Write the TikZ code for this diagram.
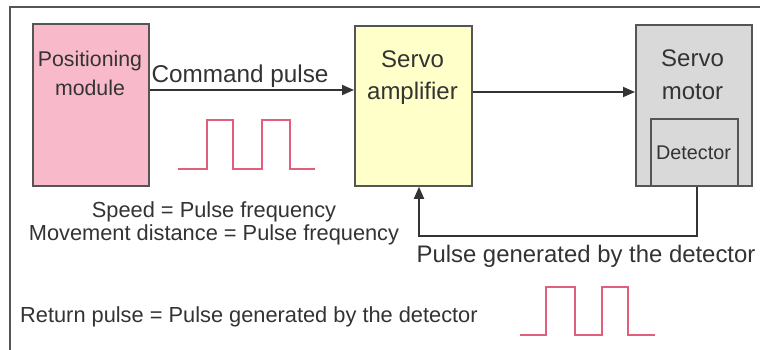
\documentclass[tikz,border=0pt]{standalone}
\usepackage{fontspec}
\setmainfont{Liberation Sans}
\usetikzlibrary{arrows.meta}
\definecolor{pinkfill}{HTML}{F8BACB}
\definecolor{yelfill}{HTML}{FFFFC9}
\definecolor{grayfill}{HTML}{D9D9D9}
\definecolor{edge}{HTML}{555555}
\definecolor{txt}{HTML}{333333}
\definecolor{pulsecol}{HTML}{E0607C}
\tikzset{
  box/.style={draw=edge, line width=1.8pt, inner sep=0pt, anchor=north west},
  lbl/.style={text=txt, inner sep=0pt, anchor=base, font=\fontsize{21.8}{23}\selectfont},
  blbl/.style={text=txt, inner sep=0pt, anchor=base, font=\fontsize{24}{25}\selectfont},
  conn/.style={draw=txt, line width=1.8pt, -{Triangle[length=12pt,width=10pt]}},
  pulse/.style={draw=pulsecol, line width=1.6pt},
}
\begin{document}
\begin{tikzpicture}[x=1pt,y=-1pt]
\useasboundingbox (0,0) rectangle (760,350);
\fill[white] (0,0) rectangle (760,350);
\draw[edge, line width=1.8pt] (10,360) -- (10,7) -- (770,7);
% boxes
\node[box, fill=pinkfill, minimum width=116pt, minimum height=162pt] (pm) at (32,23) {};
\node[box, fill=yelfill, minimum width=117pt, minimum height=160pt] (amp) at (354,25) {};
\node[box, fill=grayfill, minimum width=116pt, minimum height=161pt] (mot) at (635,24) {};
\node[box, fill=grayfill, minimum width=87pt, minimum height=67pt] (det) at (650,118) {};
% box labels
\node[lbl, font=\fontsize{21.3}{22}\selectfont] (pm1) at (90,67) {Positioning};
\node[lbl, font=\fontsize{21.3}{22}\selectfont] (pm2) at (90,96) {module};
\node[blbl] (amp1) at (412.5,68) {Servo};
\node[blbl] (amp2) at (412.5,100) {amplifier};
\node[blbl] (mot1) at (692.5,67) {Servo};
\node[blbl] (mot2) at (692.5,100) {motor};
\node[lbl, font=\fontsize{19.8}{21}\selectfont] (det1) at (693.5,159) {Detector};
% connectors
\draw[conn] (pm.east |- 0,90) -- (amp.west |- 0,90);
\draw[conn] (amp.east |- 0,92) -- (mot.west |- 0,92);
\coordinate (fbr) at (697,236);
\coordinate (fbl) at (419,236);
\draw[conn] (det.south -| fbr) -- (fbr) -- (fbl) -- (amp.south -| fbl);
% texts
\node[lbl, font=\fontsize{24.3}{25}\selectfont] (cmd) at (240,83) {Command pulse};
\node[lbl] (spd) at (214,217) {Speed = Pulse frequency};
\node[lbl] (mov) at (214,240) {Movement distance = Pulse frequency};
\node[lbl, font=\fontsize{23.9}{25}\selectfont] (pgd) at (586,262) {Pulse generated by the detector};
\node[lbl, anchor=base west] (ret) at (20,322) {Return pulse = Pulse generated by the detector};
% pulses
\draw[pulse] (178,169) -- (207,169) -- (207,120) -- (233,120) -- (233,169) -- (262,169) -- (262,120) -- (290,120) -- (290,169) -- (315,169);
\draw[pulse] (520,335) -- (546,335) -- (546,287) -- (575,287) -- (575,335) -- (602,335) -- (602,287) -- (628,287) -- (628,335) -- (655,335);
\end{tikzpicture}
\end{document}
